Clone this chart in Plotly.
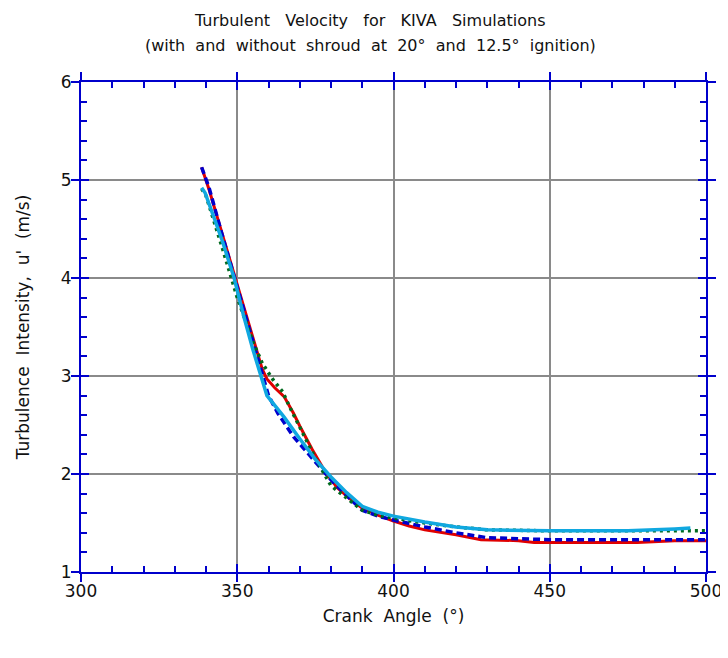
import plotly.graph_objects as go

# Crank angle (deg) and turbulence intensity u' (m/s) for each KIVA run
red_x = [338.6, 341, 345, 350, 355, 358, 359.5, 362, 365, 368, 370, 374, 378, 382, 386, 390, 395, 400, 405, 410, 420, 428, 440, 445, 460, 478, 490, 500]
red_y = [5.13, 4.90, 4.47, 3.93, 3.38, 3.07, 2.97, 2.88, 2.79, 2.62, 2.49, 2.25, 2.03, 1.86, 1.75, 1.65, 1.58, 1.52, 1.47, 1.43, 1.38, 1.33, 1.32, 1.30, 1.30, 1.30, 1.32, 1.32]

blue_x = [338.6, 341, 345, 350, 355, 358, 360, 363, 366, 368, 371, 375, 380, 385, 390, 395, 400, 410, 420, 430, 450, 470, 490, 500]
blue_y = [5.13, 4.92, 4.46, 3.90, 3.33, 3.00, 2.80, 2.62, 2.48, 2.38, 2.27, 2.12, 1.94, 1.78, 1.63, 1.57, 1.53, 1.46, 1.40, 1.35, 1.33, 1.33, 1.33, 1.33]

green_x = [338.6, 340, 345, 350, 355, 358, 361.5, 364.5, 367, 370, 375, 380, 385, 390, 395, 400, 410, 420, 430, 450, 470, 490, 500]
green_y = [4.91, 4.84, 4.33, 3.80, 3.35, 3.13, 2.96, 2.84, 2.67, 2.48, 2.16, 1.88, 1.75, 1.63, 1.58, 1.55, 1.50, 1.46, 1.43, 1.42, 1.42, 1.42, 1.42]

cyan_x = [338.6, 339.7, 345, 349, 352, 355, 359.5, 365, 370, 375, 380, 385, 390, 395, 400, 410, 420, 430, 450, 475, 490, 495]
cyan_y = [4.92, 4.87, 4.40, 4.00, 3.62, 3.27, 2.80, 2.58, 2.36, 2.15, 1.97, 1.81, 1.67, 1.61, 1.57, 1.51, 1.46, 1.43, 1.42, 1.42, 1.44, 1.45]

x_ticks = [300, 350, 400, 450, 500]
y_ticks = [1, 2, 3, 4, 5, 6]

title_lines = ["Turbulent   Velocity   for   KIVA   Simulations",
               "(with  and  without  shroud  at  20°  and  12.5°  ignition)"]

AX = "#0000cc"
GRID = "#8a8a8a"
FONT = "DejaVu Sans, Arial, sans-serif"
TXT = "#111111"

fig = go.Figure()
fig.add_trace(go.Scatter(x=red_x, y=red_y, mode="lines", line=dict(color="#e00000", width=3), hoverinfo="skip"))
fig.add_trace(go.Scatter(x=blue_x, y=blue_y, mode="lines", line=dict(color="#0000cc", width=3.5, dash="7px,4px"), hoverinfo="skip"))
fig.add_trace(go.Scatter(x=green_x, y=green_y, mode="lines", line=dict(color="#006a1e", width=3.5, dash="3px,4px"), hoverinfo="skip"))
fig.add_trace(go.Scatter(x=cyan_x, y=cyan_y, mode="lines", line=dict(color="#10a8e0", width=3.5), hoverinfo="skip"))
# empty trace so the overlay axes (outer half of the major ticks) are drawn
fig.add_trace(go.Scatter(x=[None], y=[None], xaxis="x2", yaxis="y2", mode="lines", showlegend=False, hoverinfo="skip"))

common = dict(showline=True, linecolor=AX, linewidth=2, mirror="ticks", zeroline=False, automargin=False,
              ticks="inside", ticklen=8, tickwidth=2, tickcolor=AX,
              tickfont=dict(family=FONT, size=17, color=TXT))
overlay = dict(showticklabels=False, showgrid=False, zeroline=False, showline=True, linecolor=AX,
               linewidth=2, mirror="ticks", ticks="outside", ticklen=8, tickwidth=2, tickcolor=AX)

# page body has an 8px margin, so margins are shifted to keep the plot area in place
fig.update_layout(
    width=728, height=650, showlegend=False,
    paper_bgcolor="white", plot_bgcolor="white",
    margin=dict(l=73, r=30, t=74, b=86),
    xaxis=dict(range=[300, 500], tickvals=x_ticks, showgrid=True, gridcolor=GRID, gridwidth=2,
               ticklabelstandoff=3,
               minor=dict(dtick=10, tick0=300, ticks="inside", ticklen=6, tickwidth=2, tickcolor=AX, showgrid=False),
               title=dict(text="Crank  Angle  (°)", standoff=10, font=dict(family=FONT, size=17, color=TXT)),
               **common),
    yaxis=dict(range=[1, 6], tickvals=y_ticks, showgrid=True, gridcolor=GRID, gridwidth=2,
               ticklabelstandoff=4,
               minor=dict(dtick=0.2, tick0=1, ticks="inside", ticklen=6, tickwidth=2, tickcolor=AX, showgrid=False),
               title=dict(text="Turbulence  Intensity,  u'  (m/s)", standoff=27, font=dict(family=FONT, size=17, color=TXT)),
               **common),
    xaxis2=dict(overlaying="x", range=[300, 500], tickvals=x_ticks, side="bottom", **overlay),
    yaxis2=dict(overlaying="y", range=[1, 6], tickvals=y_ticks, side="left", **overlay),
    annotations=[
        dict(text=title_lines[0], xref="paper", yref="paper", x=0.4624, y=1.1265,
             xanchor="center", yanchor="middle", showarrow=False, font=dict(family=FONT, size=16, color=TXT)),
        dict(text=title_lines[1], xref="paper", yref="paper", x=0.4624, y=1.0755,
             xanchor="center", yanchor="middle", showarrow=False, font=dict(family=FONT, size=16, color=TXT)),
    ],
)

fig.write_html("out.html")
